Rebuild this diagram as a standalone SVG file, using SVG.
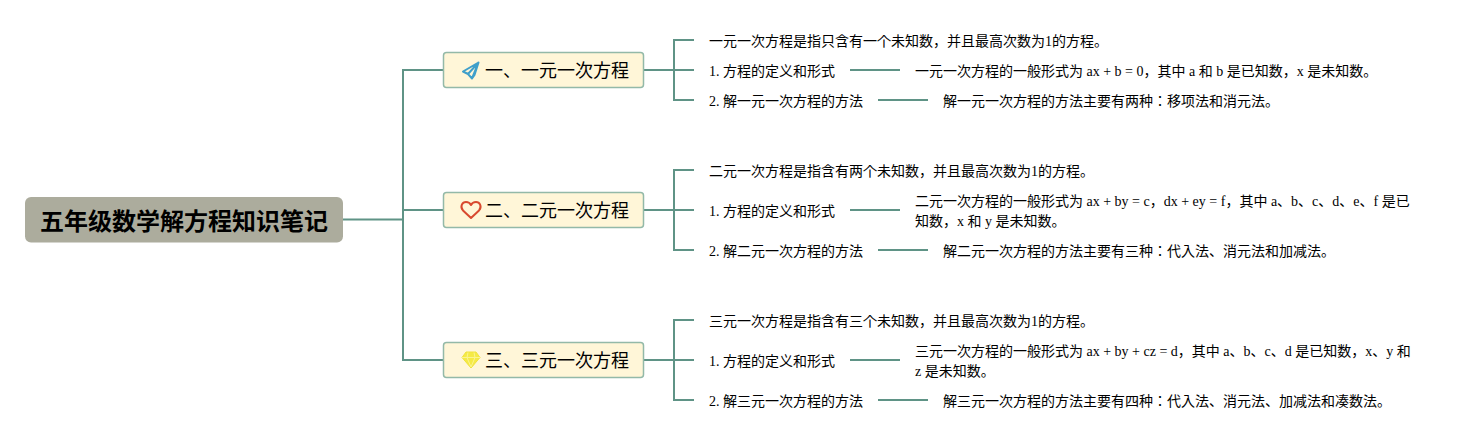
<svg xmlns="http://www.w3.org/2000/svg" width="1475" height="440" viewBox="0 0 1475 440">
<style>
text{font-family:"Liberation Serif","Noto Sans CJK JP",serif;fill:#000}
.t{font-size:14px}
.b{font-size:18px}
.r{font-size:24px;font-weight:bold}
.c{fill:none;stroke:#5f9386;stroke-width:2}
.box{fill:#fff6d8;stroke:#93b9a8;stroke-width:1.500}
</style>
<rect width="1475" height="440" fill="#fff"/>
<g id="connectors">
<path class="c" d="M343 219.500H403M403 69V361M403 70H443M403 210H443M403 360H443"/>
<path class="c" d="M644 70H674M674 39V101M674 40H694M674 70H694M674 100H694M850 70H900M878 100H928"/>
<path class="c" d="M644 210H674M674 169V251M674 170H694M674 210H694M674 250H694M850 210H900M878 250H928"/>
<path class="c" d="M644 360H674M674 319V401M674 320H694M674 360H694M674 400H694M850 360H900M878 400H928"/>
</g>
<g id="root">
<rect x="25" y="197" width="318" height="45.500" rx="6" fill="#acac9d"/>
<text class="r" x="40" y="230">五年级数学解方程知识笔记</text>
</g>
<g id="branch1">
<rect class="box" x="443.500" y="52.500" width="200" height="35" rx="3"/>
<path d="M478.500 62.500L463 71.500L468 74L472 78.500L474.500 75ZM478.500 62.500L468 74M478.500 62.500L472 78.500" fill="none" stroke="#3f9fca" stroke-width="2" stroke-linejoin="round"/>
<text class="b" x="485" y="77">一、一元一次方程</text>
</g>
<g id="branch2">
<rect class="box" x="443.500" y="192.500" width="200" height="35" rx="3"/>
<path d="M471 218L463 210.500C459.500 206 462.500 202 466 202C468 202 470 203 471 205C472 203 474 202 476 202C479.500 202 482.500 206 479 210.500Z" fill="none" stroke="#d8492f" stroke-width="2" stroke-linejoin="round"/>
<text class="b" x="485" y="217">二、二元一次方程</text>
</g>
<g id="branch3">
<rect class="box" x="443.500" y="342.500" width="200" height="35" rx="3"/>
<path d="M466 352H476L480 357.500L471 368L462 357.500Z" fill="#f5ea45" stroke="#f0e33c" stroke-width="1"/>
<path d="M462 357.500H480M467 357.500L471 367M475 357.500L471 367M468 352.500L467 357.500M474 352.500L475 357.500" fill="none" stroke="#fbf490" stroke-width="1"/>
<text class="b" x="485" y="367">三、三元一次方程</text>
</g>
<g id="n1-1"><text class="t" x="709" y="46">一元一次方程是指只含有一个未知数，并且最高次数为1的方程。</text></g>
<g id="n1-2"><text class="t" x="709" y="76">1. 方程的定义和形式</text></g>
<g id="n1-2-1"><text class="t" x="915" y="76">一元一次方程的一般形式为 ax + b = 0，其中 a 和 b 是已知数，x 是未知数。</text></g>
<g id="n1-3"><text class="t" x="709" y="106">2. 解一元一次方程的方法</text></g>
<g id="n1-3-1"><text class="t" x="943" y="106">解一元一次方程的方法主要有两种：移项法和消元法。</text></g>
<g id="n2-1"><text class="t" x="709" y="176">二元一次方程是指含有两个未知数，并且最高次数为1的方程。</text></g>
<g id="n2-2"><text class="t" x="709" y="216">1. 方程的定义和形式</text></g>
<g id="n2-2-1"><text class="t" x="915" y="206">二元一次方程的一般形式为 ax + by = c，dx + ey = f，其中 a、b、c、d、e、f 是已</text><text class="t" x="915" y="226">知数，x 和 y 是未知数。</text></g>
<g id="n2-3"><text class="t" x="709" y="256">2. 解二元一次方程的方法</text></g>
<g id="n2-3-1"><text class="t" x="943" y="256">解二元一次方程的方法主要有三种：代入法、消元法和加减法。</text></g>
<g id="n3-1"><text class="t" x="709" y="326">三元一次方程是指含有三个未知数，并且最高次数为1的方程。</text></g>
<g id="n3-2"><text class="t" x="709" y="366">1. 方程的定义和形式</text></g>
<g id="n3-2-1"><text class="t" x="915" y="356">三元一次方程的一般形式为 ax + by + cz = d，其中 a、b、c、d 是已知数，x、y 和</text><text class="t" x="915" y="376">z 是未知数。</text></g>
<g id="n3-3"><text class="t" x="709" y="406">2. 解三元一次方程的方法</text></g>
<g id="n3-3-1"><text class="t" x="943" y="406">解三元一次方程的方法主要有四种：代入法、消元法、加减法和凑数法。</text></g>
</svg>
